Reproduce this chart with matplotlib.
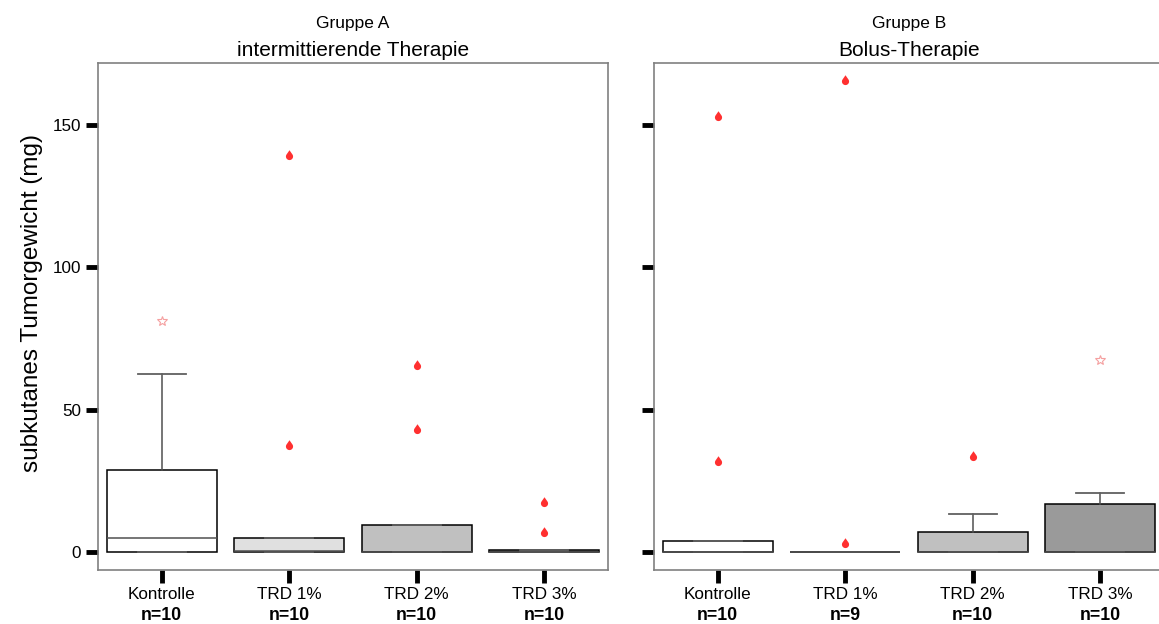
import numpy as np
import matplotlib
matplotlib.use("Agg")
import matplotlib.pyplot as plt
from matplotlib.path import Path

plt.rcParams["font.family"] = ["Liberation Sans", "DejaVu Sans"]

# ---- data ----
categories = ["Kontrolle", "TRD 1%", "TRD 2%", "TRD 3%"]
fills = ["white", "#e0e0e0", "#c0c0c0", "#9a9a9a"]

group_a_title = ("Gruppe A", "intermittierende Therapie")
n_a = [10, 10, 10, 10]
q1_a = [0.0, 0.0, 0.0, 0.0]
med_a = [4.9, 0.4, 0.0, 0.0]
q3_a = [28.9, 4.8, 9.5, 0.7]
whislo_a = [0.0, 0.0, 0.0, 0.0]
whishi_a = [62.7, 4.8, 9.5, 0.7]
outliers_a = [[], [37.3, 139.1], [43.0, 65.5], [6.6, 17.1]]
extremes_a = [[81.3], [], [], []]

group_b_title = ("Gruppe B", "Bolus-Therapie")
n_b = [10, 9, 10, 10]
q1_b = [0.0, 0.0, 0.0, 0.0]
med_b = [0.0, 0.0, 0.0, 0.0]
q3_b = [3.9, 0.0, 7.2, 16.8]
whislo_b = [0.0, 0.0, 0.0, 0.0]
whishi_b = [3.9, 0.0, 13.5, 20.8]
outliers_b = [[31.7, 152.8], [2.7, 165.5], [33.5], []]
extremes_b = [[], [], [], [67.5]]

yticks = [0, 50, 100, 150]


def drop_marker():
    # teardrop shape: round bottom, pointed top
    ang = np.linspace(np.pi / 5, -6 * np.pi / 5, 40)
    verts = np.column_stack([np.cos(ang), np.sin(ang)])
    verts = np.vstack([verts, [0.0, 1.75], verts[:1]])
    return Path(verts, closed=True)


DROP = drop_marker()


def draw_panel(ax, titles, n, q1, med, q3, wlo, whi, outl, extr, show_ylabels):
    stats = []
    for i, cat in enumerate(categories):
        stats.append({"label": cat, "q1": q1[i], "med": med[i], "q3": q3[i],
                      "whislo": wlo[i], "whishi": whi[i], "fliers": []})
    pos = np.arange(1, len(categories) + 1)
    bp = ax.bxp(stats, positions=pos, widths=0.86, patch_artist=True,
                showfliers=False, capwidths=0.38,
                boxprops=dict(edgecolor="black", linewidth=1.1),
                medianprops=dict(color="#505050", linewidth=1.1),
                whiskerprops=dict(color="#505050", linewidth=1.1),
                capprops=dict(color="#606060", linewidth=1.3))
    for patch, fc in zip(bp["boxes"], fills):
        patch.set_facecolor(fc)

    for p, vals in zip(pos, outl):
        if vals:
            ax.plot([p] * len(vals), vals, linestyle="none", marker=DROP,
                    markersize=9, color="#ff3030", markeredgewidth=0)
    for p, vals in zip(pos, extr):
        if vals:
            ax.plot([p] * len(vals), vals, linestyle="none", marker="*",
                    markersize=7, markerfacecolor="none",
                    markeredgecolor="#f5a0a0", markeredgewidth=0.8)

    ax.set_xlim(0.5, len(categories) + 0.5)
    ax.set_ylim(-6.3, 171.8)
    ax.set_yticks(yticks)
    ax.set_xticks(pos)
    ax.set_xticklabels(categories)
    ax.tick_params(axis="both", length=9, width=3.5, color="black",
                   labelsize=12.3, pad=3)
    if not show_ylabels:
        ax.set_yticklabels([])
    for s in ax.spines.values():
        s.set_color("#808080")
        s.set_linewidth(1.2)

    for p, k in zip(pos, n):
        ax.annotate(f"n={k}", xy=(p, 0), xycoords=("data", "axes fraction"),
                    xytext=(0, -32.5), textcoords="offset points",
                    ha="center", va="center", fontsize=12.8, fontweight="bold")

    ax.annotate(titles[1], xy=(0.5, 1.0), xycoords="axes fraction",
                xytext=(0, 2), textcoords="offset points",
                ha="center", va="bottom", fontsize=15)
    ax.annotate(titles[0], xy=(0.5, 1.0), xycoords="axes fraction",
                xytext=(0, 23), textcoords="offset points",
                ha="center", va="bottom", fontsize=12.5)


fig = plt.figure(figsize=(11.59, 6.24), dpi=100)
W, H = 1159, 624
ax_a = fig.add_axes([98 / W, (H - 570) / H, 510 / W, 507 / H])
ax_b = fig.add_axes([654 / W, (H - 570) / H, 510 / W, 507 / H])

draw_panel(ax_a, group_a_title, n_a, q1_a, med_a, q3_a, whislo_a, whishi_a,
           outliers_a, extremes_a, True)
draw_panel(ax_b, group_b_title, n_b, q1_b, med_b, q3_b, whislo_b, whishi_b,
           outliers_b, extremes_b, False)

ax_a.set_ylabel("subkutanes Tumorgewicht (mg)", fontsize=17.5)
ax_a.yaxis.set_label_coords(-0.108, 0.527)

fig.savefig("out.png", dpi=100)
